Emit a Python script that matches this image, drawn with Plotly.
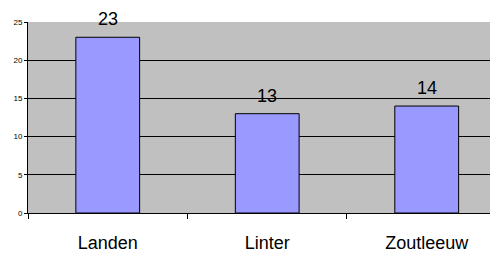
import plotly.graph_objects as go

categories = ["Landen", "Linter", "Zoutleeuw"]
values = [23, 13, 14]
y_ticks = [0, 5, 10, 15, 20, 25]

fig = go.Figure()
fig.add_trace(go.Bar(
    x=categories, y=values, width=0.40,
    marker=dict(color="#9999FF", line=dict(color="#000000", width=1)),
    hoverinfo="skip",
))
for c, v in zip(categories, values):
    fig.add_annotation(x=c, y=v, text=str(v), showarrow=False, yanchor="bottom",
                       yshift=6, font=dict(family="Arial, Liberation Sans", size=18, color="#000000"))

# page body has an 8px default margin, so the figure is sized to fill the rest
fig.update_layout(
    width=490, height=245,
    margin=dict(l=20, r=0, t=14, b=40),
    paper_bgcolor="#FFFFFF", plot_bgcolor="#C0C0C0",
    showlegend=False,
    font=dict(family="Arial, Liberation Sans", color="#000000"),
)
fig.update_xaxes(
    type="category", range=[-0.5, 2.447], automargin=False,
    showgrid=False, showline=True, linecolor="#000000", linewidth=1,
    ticks="outside", tickson="boundaries", ticklen=5, tickcolor="#000000",
    tickfont=dict(size=18, color="#000000"), ticklabelstandoff=13,
)
fig.update_yaxes(
    range=[0, 25], tickvals=y_ticks, automargin=False,
    showgrid=True, gridcolor="#000000", gridwidth=1,
    showline=True, linecolor="#000000", linewidth=1,
    ticks="outside", ticklen=3, tickcolor="#000000",
    tickfont=dict(size=8, color="#000000"), zeroline=False,
)
fig.write_html("out.html")
